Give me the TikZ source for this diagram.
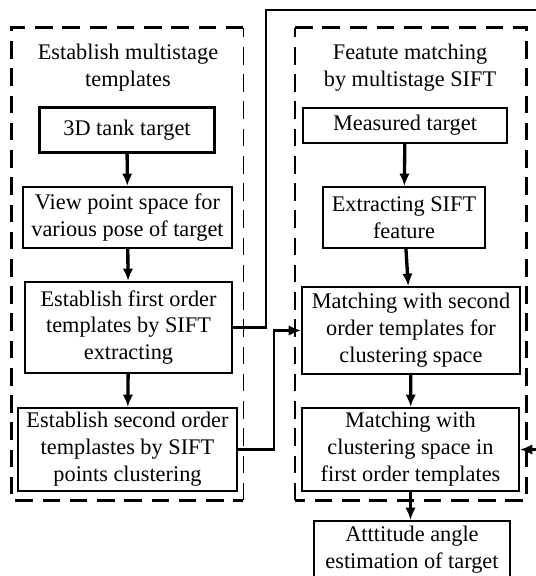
\documentclass[tikz,border=0pt]{standalone}
\usepackage{fontspec}
\setmainfont{Liberation Serif}
\usetikzlibrary{arrows.meta}

\begin{document}
\begin{tikzpicture}[x=0.02cm,y=-0.02cm,
    every node/.style={font=\fontsize{12.7pt}{15.3pt}\selectfont,align=center,inner sep=0pt},
    stagebox/.style={draw,line width=1.3pt,minimum width=#1},
    grouparea/.style={minimum width=4.62cm,minimum height=9.44cm},
    groupthick/.style={line width=1.8pt,dash pattern=on 10pt off 5.5pt},
    groupthin/.style={line width=0.9pt,dash pattern=on 10pt off 5.5pt},
    flow/.style={line width=1.9pt,-{Latex[length=7pt,width=6pt]}},
    link/.style={line width=1.3pt,-{Latex[length=7pt,width=6pt]}}]
%
  \useasboundingbox (0,0) rectangle (536,576);
  \clip (0,0) rectangle (536,576);
%
  \node[grouparea] (lgroup) at (127.5,264) {};
  \node[grouparea] (rgroup) at (411,264) {};
%
  \draw[groupthick] (lgroup.north east) -- (lgroup.north west)
        -- (lgroup.south west) -- (lgroup.south east);
  \draw[groupthin] (lgroup.south east) -- (lgroup.north east);
  \draw[groupthick] (rgroup.north west) -- (rgroup.north east)
        -- (rgroup.south east) -- (rgroup.south west);
  \draw[groupthin] (rgroup.south west) -- (rgroup.north west);
%
  \node (ltitle) at (128,68) {Establish multistage\\templates};
  \node (rtitle) at (410,68) {Featute matching\\by multistage SIFT};
%
  \node[stagebox=3.5cm,minimum height=0.9cm] (tank) at (127,130) {3D tank target};
  \node[stagebox=4.18cm,minimum height=1.22cm] (view) at (127.5,217.5)
       {View point space for\\various pose of target};
  \node[stagebox=4.14cm,minimum height=1.82cm] (first) at (128.5,327.5)
       {Establish first order\\templates by SIFT\\extracting};
  \node[stagebox=4.38cm,minimum height=1.66cm] (second) at (127.5,449.5)
       {Establish second order\\templastes by SIFT\\points clustering};
%
  \node[stagebox=4.08cm,minimum height=0.7cm] (measured) at (405,125.5) {Measured target};
  \node[stagebox=3.24cm,minimum height=1.22cm] (extract) at (404,217.5)
       {Extracting SIFT\\feature};
  \node[stagebox=4.36cm,minimum height=1.74cm] (matchsec) at (411,330.5)
       {Matching with second\\order templates for\\clustering space};
  \node[stagebox=4.34cm,minimum height=1.66cm] (matchfirst) at (410.5,449.5)
       {Matching with\\clustering space in\\first order templates};
  \node[stagebox=3.92cm,anchor=north,text height=0.94cm,text depth=1cm]
       (attitude) at (412,520) {Atttitude angle\\estimation of target};
%
  \coordinate (topright) at (580,10);
%
  \draw[flow] (tank) -- (view);
  \draw[flow] (view) -- (first);
  \draw[flow] (first) -- (second);
  \draw[flow] (measured) -- (extract);
  \draw[flow] (extract) -- (matchsec);
  \draw[flow] (matchsec) -- (matchfirst);
  \draw[flow] (matchfirst.south) -- (matchfirst.south |- attitude.north);
%
  \draw[link] (second.east) -- ++(36,0) |- (matchsec.west);
  \draw[link] (first.east) -- ++(33,0) |- (topright) |- (matchfirst.east);
%
\end{tikzpicture}
\end{document}
